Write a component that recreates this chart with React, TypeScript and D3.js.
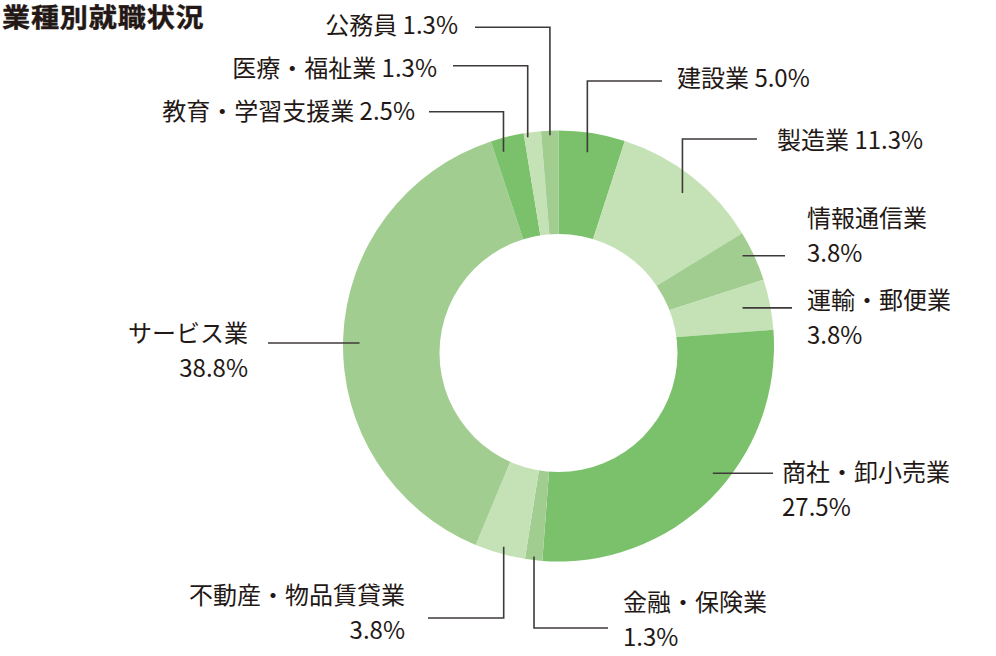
import React from "react";
import * as d3 from "d3";

// 業種別就職状況 (percent of graduates by industry), clockwise from 12 o'clock
const categories = [
    "建設業",
    "製造業",
    "情報通信業",
    "運輸・郵便業",
    "商社・卸小売業",
    "金融・保険業",
    "不動産・物品賃貸業",
    "サービス業",
    "教育・学習支援業",
    "医療・福祉業",
    "公務員",
];
const shares = [5.0, 11.3, 3.8, 3.8, 27.5, 1.3, 3.8, 38.8, 2.5, 1.3, 1.3];
const shareLabels = ["5.0%", "11.3%", "3.8%", "3.8%", "27.5%", "1.3%", "3.8%", "38.8%", "2.5%", "1.3%", "1.3%"];

const DARK = "#7bc16b";
const MID = "#a1ce90";
const LIGHT = "#c5e2b7";
const SLICE_COLORS = [DARK, LIGHT, MID, LIGHT, DARK, MID, LIGHT, MID, DARK, LIGHT, MID];

// label layout: r = radius where the leader starts, dA = nudge (deg) from the slice middle,
// route "v" goes vertical then horizontal, "h" is a straight horizontal line
type Layout = {
    r: number;
    dA: number;
    route: "v" | "h";
    lineY?: number;
    endX: number;
    textX: number;
    baseY: number;
    anchor: "start" | "end";
    split: boolean;
};
const LAYOUT: Layout[] = [
    { r: 196, dA: -0.5, route: "v", lineY: 81, endX: 662, textX: 677, baseY: 87, anchor: "start", split: false },
    { r: 197, dA: 0.8, route: "v", lineY: 139, endX: 757, textX: 777, baseY: 148.5, anchor: "start", split: false },
    { r: 205, dA: -1.4, route: "h", endX: 785, textX: 807, baseY: 226.5, anchor: "start", split: true },
    { r: 188, dA: -0.6, route: "h", endX: 792, textX: 807, baseY: 309, anchor: "start", split: true },
    { r: 200, dA: -5.5, route: "h", endX: 773, textX: 782, baseY: 480.5, anchor: "start", split: true },
    { r: 212, dA: 0, route: "v", lineY: 628, endX: 608, textX: 623, baseY: 610.5, anchor: "start", split: true },
    { r: 208, dA: -0.5, route: "v", lineY: 618, endX: 428, textX: 405, baseY: 603.5, anchor: "end", split: true },
    { r: 199, dA: -1.3, route: "h", endX: 268, textX: 248, baseY: 341.5, anchor: "end", split: true },
    { r: 202, dA: -2, route: "v", lineY: 111.7, endX: 429, textX: 415, baseY: 120, anchor: "end", split: false },
    { r: 211, dA: -1.4, route: "v", lineY: 65.7, endX: 453, textX: 437, baseY: 76.5, anchor: "end", split: false },
    { r: 211, dA: 0, route: "v", lineY: 27.3, endX: 475, textX: 458, baseY: 33.5, anchor: "end", split: false },
];

const WIDTH = 996;
const HEIGHT = 656;
const CX = 558.5;
const CY = 346;
const OUTER_R = 215.5;
const HOLE_R = 119;
const HOLE_DY = 7;
const LINE_GAP = 35;
const FONT = "'Noto Sans CJK JP', 'Noto Sans', sans-serif";

const App: React.FC = () => {
    const pie = d3.pie<number>().sort(null).value(d => d);
    const arcs = pie(shares);
    const arc = d3.arc<d3.PieArcDatum<number>>().innerRadius(0).outerRadius(OUTER_R);

    return (
        <div style={{ position: "absolute", left: 0, top: 0 }}>
            <svg width={WIDTH} height={HEIGHT} style={{ display: "block", background: "#fff" }}>
                {/* title glyphs are a bit wider than tall in the original */}
                <text
                    transform="translate(2,27) scale(1.08,1)"
                    fontFamily={FONT}
                    fontWeight={700}
                    fontSize={26}
                    letterSpacing={0.8}
                    fill="#231815"
                    stroke="#231815"
                    strokeWidth={0.4}
                >
                    業種別就職状況
                </text>

                <g transform={`translate(${CX},${CY})`}>
                    {arcs.map((a, i) => (
                        <path key={categories[i]} d={arc(a) || ""} fill={SLICE_COLORS[i]} />
                    ))}
                </g>
                <circle cx={CX} cy={CY + HOLE_DY} r={HOLE_R} fill="#fff" />

                {arcs.map((a, i) => {
                    const lay = LAYOUT[i];
                    const ang = (a.startAngle + a.endAngle) / 2 + (lay.dA * Math.PI) / 180;
                    const sx = CX + lay.r * Math.sin(ang);
                    const sy = CY - lay.r * Math.cos(ang);
                    const pts: [number, number][] =
                        lay.route === "v"
                            ? [[sx, sy], [sx, lay.lineY!], [lay.endX, lay.lineY!]]
                            : [[sx, sy], [lay.endX, sy]];
                    const line = d3.line();
                    return (
                        <g key={categories[i]}>
                            <path d={line(pts) || ""} fill="none" stroke="#3e3a39" strokeWidth={1.6} />
                            <text
                                x={lay.textX}
                                y={lay.baseY}
                                textAnchor={lay.anchor}
                                fontFamily={FONT}
                                fontSize={24}
                                fill="#231815"
                            >
                                {lay.split ? (
                                    <>
                                        <tspan x={lay.textX}>{categories[i]}</tspan>
                                        <tspan x={lay.textX} y={lay.baseY + LINE_GAP}>{shareLabels[i]}</tspan>
                                    </>
                                ) : (
                                    `${categories[i]} ${shareLabels[i]}`
                                )}
                            </text>
                        </g>
                    );
                })}
            </svg>
        </div>
    );
};

export default App;
